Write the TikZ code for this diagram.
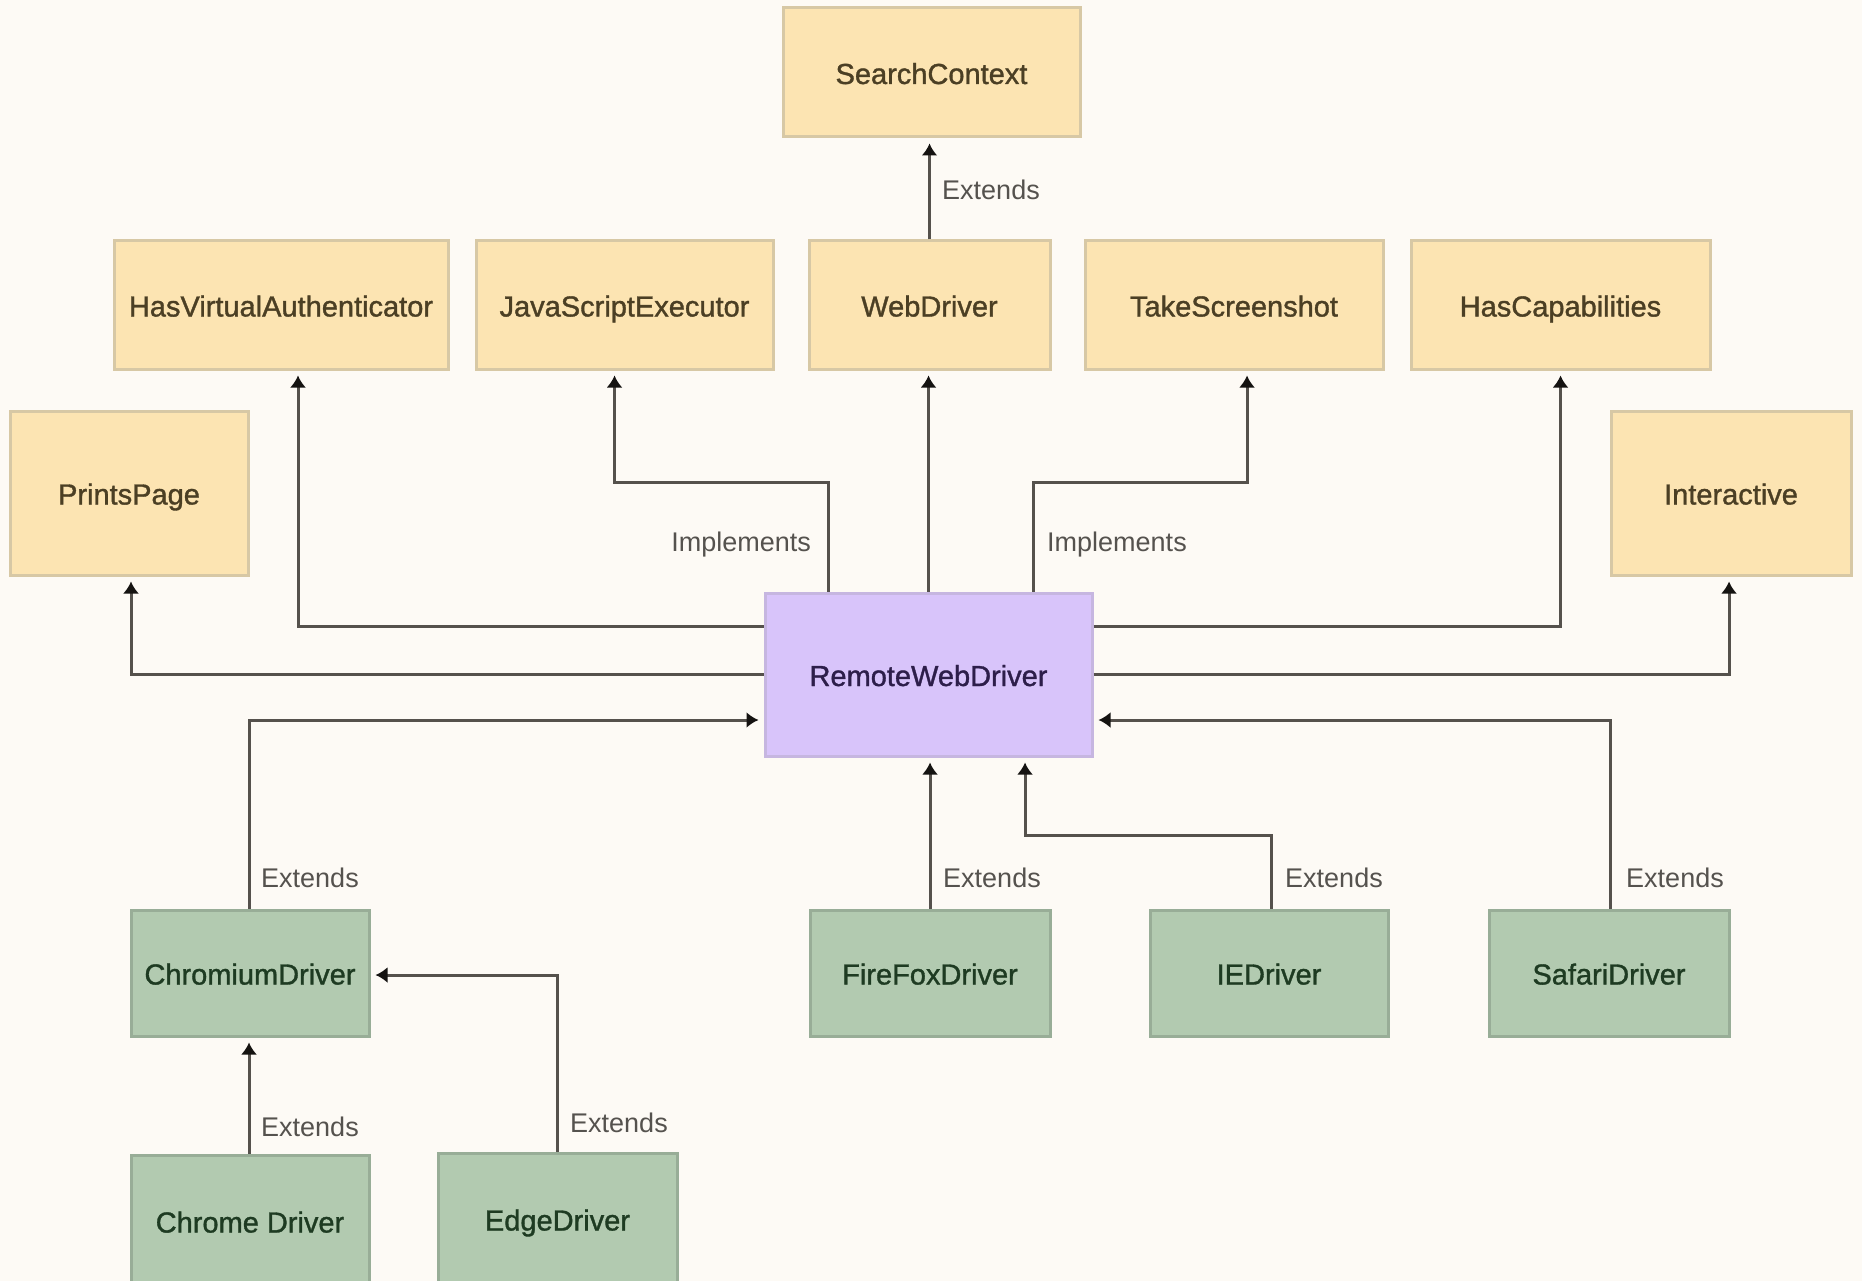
\documentclass[tikz,border=0pt]{standalone}
\usepackage{fontspec}
\setmainfont{Liberation Sans}
\newfontfamily\medfont{Liberation Sans}[FakeBold=1.2]
\usetikzlibrary{arrows.meta}
\definecolor{bg}{HTML}{FDFAF5}
\definecolor{yfill}{HTML}{FCE4B2}
\definecolor{ydraw}{HTML}{D7C8A5}
\definecolor{ytext}{HTML}{4B3F24}
\definecolor{pfill}{HTML}{D8C4FA}
\definecolor{pdraw}{HTML}{C6B6E0}
\definecolor{ptext}{HTML}{2D1E4A}
\definecolor{gfill}{HTML}{B2CAB0}
\definecolor{gdraw}{HTML}{98AD97}
\definecolor{gtext}{HTML}{1E3B22}
\definecolor{lcol}{HTML}{55514C}
\definecolor{ltext}{HTML}{55524E}
\definecolor{tipcol}{HTML}{151311}
\tikzset{
  box/.style={rectangle, inner sep=0pt, line width=3pt, text height=25pt, text depth=2pt,
    font=\medfont\fontsize{29}{34}\selectfont},
  ybox/.style={box, fill=yfill, draw=ydraw, text=ytext},
  pbox/.style={box, fill=pfill, draw=pdraw, text=ptext},
  gbox/.style={box, fill=gfill, draw=gdraw, text=gtext},
  conn/.style={draw=lcol, line width=3pt, shorten >=5pt,
    -{Latex[length=12pt,width=16pt,color=tipcol]}},
  lbl/.style={inner sep=0pt, text=ltext, font=\fontsize{27}{32}\selectfont},
}
\begin{document}
\begin{tikzpicture}[x=1pt,y=-1pt]
\clip (0,0) rectangle (1862,1281);
\fill[bg] (0,0) rectangle (1862,1281);
% yellow interfaces
\node[ybox, minimum width=297pt, minimum height=129pt] (sc) at (931.5,72.5) {SearchContext};
\node[ybox, minimum width=334pt, minimum height=128pt] (hva) at (281,305) {HasVirtualAuthenticator};
\node[ybox, minimum width=297pt, minimum height=128pt] (jse) at (624.5,305) {JavaScriptExecutor};
\node[ybox, minimum width=241pt, minimum height=128pt] (wd) at (929.5,305) {WebDriver};
\node[ybox, minimum width=298pt, minimum height=128pt] (ts) at (1234,305) {TakeScreenshot};
\node[ybox, minimum width=299pt, minimum height=128pt] (hc) at (1560.5,305) {HasCapabilities};
\node[ybox, minimum width=238pt, minimum height=164pt] (pp) at (129,493) {PrintsPage};
\node[ybox, minimum width=240pt, minimum height=164pt] (ia) at (1731,493) {Interactive};
% central
\node[pbox, minimum width=327pt, minimum height=163pt] (rwd) at (928.5,674.5) {RemoteWebDriver};
% green drivers
\node[gbox, minimum width=238pt, minimum height=126pt] (cmd) at (250,973) {ChromiumDriver};
\node[gbox, minimum width=240pt, minimum height=126pt] (ff) at (930,973) {FireFoxDriver};
\node[gbox, minimum width=238pt, minimum height=126pt] (ie) at (1269,973) {IEDriver};
\node[gbox, minimum width=240pt, minimum height=126pt] (sf) at (1609,973) {SafariDriver};
\node[gbox, minimum width=238pt, minimum height=132pt] (cd) at (250,1221) {Chrome Driver};
\node[gbox, minimum width=239pt, minimum height=132pt] (ed) at (557.5,1219) {EdgeDriver};
% waypoints
\coordinate (jk) at (828.5,482);
\coordinate (tk) at (1033,482);
\coordinate (iek) at (1025,835);
% connectors upward
\draw[conn] (wd.north) -- (wd.north |- sc.south);
\draw[conn] (rwd.west) -| ([xshift=2pt]pp.south);
\draw[conn] ([yshift=48.5pt]rwd.west) -| ([xshift=17pt]hva.south);
\draw[conn] (rwd.north -| jk) -- (jk) -| ([xshift=-10pt]jse.south);
\draw[conn] (rwd.north) -- (rwd.north |- wd.south);
\draw[conn] (rwd.north -| tk) -- (tk) -| ([xshift=13pt]ts.south);
\draw[conn] ([yshift=48.5pt]rwd.east) -| (hc.south);
\draw[conn] (rwd.east) -| ([xshift=-2pt]ia.south);
% drivers
\draw[conn] ([xshift=-1pt]cmd.north) |- ([yshift=-45.5pt]rwd.west);
\draw[conn] (ff.north) -- (ff.north |- rwd.south);
\draw[conn] ([xshift=2pt]ie.north) |- (iek) -- (iek |- rwd.south);
\draw[conn] ([xshift=1pt]sf.north) |- ([yshift=-45.5pt]rwd.east);
\draw[conn] ([xshift=-1pt]cd.north) -- ([xshift=-1pt]cmd.south);
\draw[conn] (ed.north) |- ([yshift=-2pt]cmd.east);
% labels
\node[lbl, anchor=west] (e0) at (942,190) {Extends};
\node[lbl, anchor=east] (i1) at (811,545) {Implements};
\node[lbl, anchor=west] (i2) at (1047,545) {Implements};
\node[lbl, anchor=west] (e1) at (261,878) {Extends};
\node[lbl, anchor=west] (e2) at (943,878) {Extends};
\node[lbl, anchor=west] (e3) at (1285,878) {Extends};
\node[lbl, anchor=west] (e4) at (1626,878) {Extends};
\node[lbl, anchor=west] (e5) at (261,1127) {Extends};
\node[lbl, anchor=west] (e6) at (570,1123) {Extends};
\end{tikzpicture}
\end{document}
